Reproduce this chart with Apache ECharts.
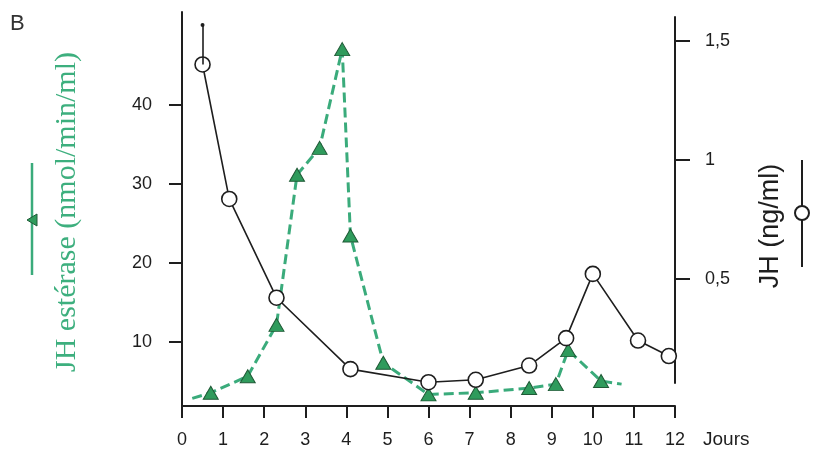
<!DOCTYPE html>
<html>
<head>
<meta charset="utf-8">
<script src="https://cdn.jsdelivr.net/npm/echarts@6/dist/echarts.min.js"></script>
<style>
html,body{margin:0;padding:0;background:#ffffff;}
#chart{width:821px;height:461px;}
</style>
</head>
<body>
<div id="chart"></div>
<script>
// Days (x) and values
var esteraseDays   = [0.25, 0.7, 1.6, 2.3, 2.8, 3.35, 3.9, 4.1, 4.9, 6.0, 7.15, 8.45, 9.1, 9.4, 10.2, 10.7];
var esteraseValues = [2.9, 3.6, 5.7, 12.2, 31.2, 34.6, 47.1, 23.5, 7.4, 3.4, 3.6, 4.2, 4.7, 9.0, 5.1, 4.7];
var esteraseMarked = [false, true, true, true, true, true, true, true, true, true, true, true, true, true, true, false];

var jhDays   = [0.5, 1.15, 2.3, 4.1, 6.0, 7.15, 8.45, 9.35, 10.0, 11.1, 11.85];
var jhValues = [1.40, 0.835, 0.42, 0.12, 0.065, 0.075, 0.135, 0.25, 0.52, 0.24, 0.175];
var jhErrorTop = 1.566;

var xTicks = [0,1,2,3,4,5,6,7,8,9,10,11,12];
var leftTicks = [10, 20, 30, 40];
var rightTicks = [0.5, 1, 1.5];
var rightTickLabels = ['0,5', '1', '1,5'];

var GREEN_LINE = '#3aab7b';
var GREEN_FILL = '#2f9b5c';
var INK = '#1e1e1e';

var estData = esteraseDays.map(function (d, i) {
  return {value: [d, esteraseValues[i]], symbol: esteraseMarked[i] ? 'triangle' : 'none'};
});
var jhData = jhDays.map(function (d, i) { return [d, jhValues[i]]; });

var chart = echarts.init(document.getElementById('chart'), null, {renderer: 'canvas'});
var axisFont = {fontFamily: 'Liberation Sans', fontSize: 18, color: INK};

chart.setOption({
  backgroundColor: '#ffffff',
  animation: false,
  grid: [
    {left: 182, right: 146, top: 12, bottom: 55},
    {left: 182, right: 146, top: 17, bottom: 78}
  ],
  xAxis: [
    {
      type: 'value', gridIndex: 0, min: 0, max: 12, interval: 1,
      axisLine: {onZero: false, lineStyle: {color: INK, width: 2}},
      axisTick: {show: true, length: 12, inside: false, lineStyle: {color: INK, width: 2}},
      axisLabel: Object.assign({margin: 25, formatter: function (v) { return String(v); }}, axisFont),
      splitLine: {show: false}
    },
    {
      type: 'value', gridIndex: 1, min: 0, max: 12, show: false
    }
  ],
  yAxis: [
    {
      type: 'value', gridIndex: 0, position: 'left', min: 1.93, max: 51.8,
      axisLine: {show: true, onZero: false, lineStyle: {color: INK, width: 2}},
      axisTick: {show: true, length: 13, customValues: leftTicks, lineStyle: {color: INK, width: 2}},
      axisLabel: Object.assign({margin: 30, customValues: leftTicks}, axisFont),
      splitLine: {show: false}
    },
    {
      type: 'value', gridIndex: 1, position: 'right', min: 0.0616, max: 1.5995,
      axisLine: {show: true, onZero: false, lineStyle: {color: INK, width: 2}},
      axisTick: {show: true, length: 15, customValues: rightTicks, lineStyle: {color: INK, width: 2}},
      axisLabel: Object.assign({margin: 30, customValues: rightTicks, formatter: function (v) {
        var i = rightTicks.indexOf(v); return i >= 0 ? rightTickLabels[i] : '';
      }}, axisFont),
      splitLine: {show: false}
    }
  ],
  series: [
    {
      name: 'JH estérase', type: 'line', xAxisIndex: 0, yAxisIndex: 0,
      data: estData, clip: false, z: 3,
      symbolSize: [15, 13],
      lineStyle: {color: GREEN_LINE, width: 3, type: [10, 5]},
      itemStyle: {color: GREEN_FILL, borderColor: '#1f5a36', borderWidth: 1}
    },
    {
      name: 'JH', type: 'line', xAxisIndex: 1, yAxisIndex: 1,
      data: jhData, clip: false, z: 4,
      symbol: 'circle', symbolSize: 15,
      lineStyle: {color: INK, width: 1.6},
      itemStyle: {color: '#ffffff', borderColor: INK, borderWidth: 1.6},
      markLine: {
        silent: true, animation: false,
        symbol: ['none', 'circle'], symbolSize: 4,
        label: {show: false},
        lineStyle: {color: INK, width: 1.6, type: 'solid'},
        data: [[{coord: [jhDays[0], jhValues[0]]}, {coord: [jhDays[0], jhErrorTop]}]]
      }
    }
  ],
  graphic: [
    {type: 'text', left: 10, top: 13, style: {text: 'B', fontFamily: 'Liberation Sans', fontSize: 22, fill: '#333'}},
    {type: 'text', x: 703, y: 440, style: {text: 'Jours', fontFamily: 'Liberation Sans', fontSize: 19, fill: INK, verticalAlign: 'middle'}},
    {type: 'text', x: 67, y: 212, rotation: Math.PI / 2,
      style: {text: 'JH estérase (nmol/min/ml)', fontFamily: 'Liberation Serif', fontSize: 30, fill: '#3daf7e', align: 'center', verticalAlign: 'middle'}},
    {type: 'line', shape: {x1: 32, y1: 163, x2: 32, y2: 275}, style: {stroke: GREEN_LINE, lineWidth: 2.5}},
    {type: 'polygon', shape: {points: [[27, 220], [37, 214], [37, 226]]}, style: {fill: GREEN_FILL, stroke: '#1f5a36', lineWidth: 1}},
    {type: 'text', x: 771, y: 226, rotation: Math.PI / 2,
      style: {text: 'JH (ng/ml)', fontFamily: 'Liberation Sans', fontSize: 27, fill: INK, align: 'center', verticalAlign: 'middle'}},
    {type: 'line', shape: {x1: 802, y1: 160, x2: 802, y2: 267}, style: {stroke: INK, lineWidth: 2}},
    {type: 'circle', shape: {cx: 802, cy: 213, r: 7}, style: {fill: '#ffffff', stroke: INK, lineWidth: 2}}
  ]
});
</script>
</body>
</html>
